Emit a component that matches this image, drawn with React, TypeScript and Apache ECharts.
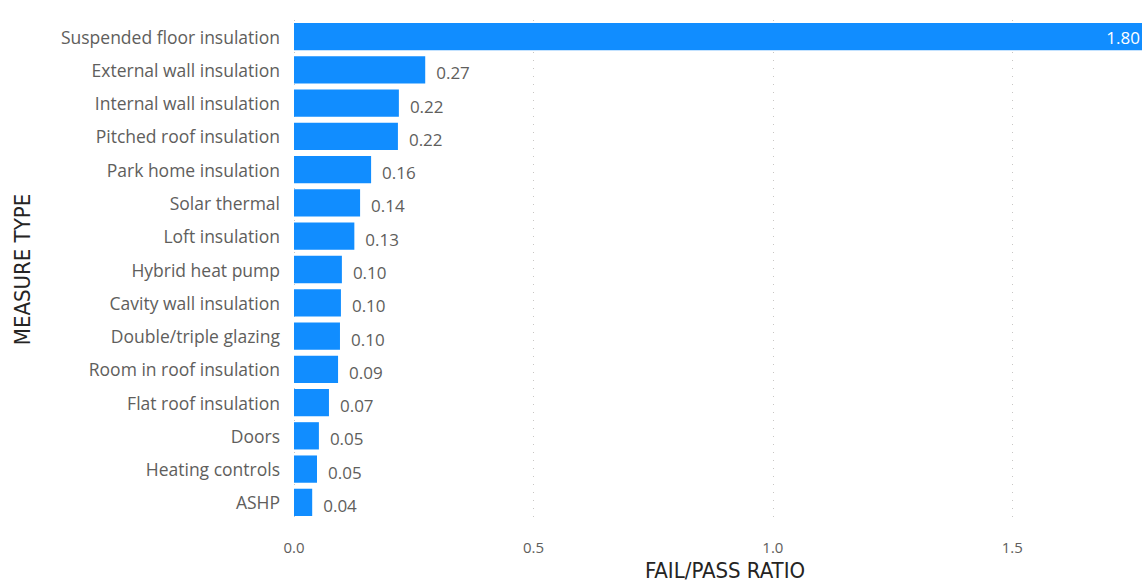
import React, { useEffect, useRef } from "react";
import * as echarts from "echarts";

const categories = [
  "Suspended floor insulation",
  "External wall insulation",
  "Internal wall insulation",
  "Pitched roof insulation",
  "Park home insulation",
  "Solar thermal",
  "Loft insulation",
  "Hybrid heat pump",
  "Cavity wall insulation",
  "Double/triple glazing",
  "Room in roof insulation",
  "Flat roof insulation",
  "Doors",
  "Heating controls",
  "ASHP",
];

const ratios = [1.8, 0.274, 0.219, 0.217, 0.161, 0.138, 0.126, 0.1, 0.098, 0.096, 0.092, 0.073, 0.052, 0.048, 0.038];

const xTicks = [0, 0.5, 1.0, 1.5];

export default function App() {
  const ref = useRef<HTMLDivElement>(null);
  useEffect(() => {
    document.body.style.margin = "0";
    const chart = echarts.init(ref.current!, null, { renderer: "svg" });
    const labelFont = "'Open Sans', 'Noto Sans', sans-serif";
    const titleFont = "'DejaVu Sans Condensed', 'DejaVu Sans', sans-serif";
    chart.setOption({
      animation: false,
      backgroundColor: "#ffffff",
      grid: {
        left: 294,
        top: 20,
        width: 862,
        bottom: 64,
        containLabel: false,
        outerBoundsMode: "none",
      },
      xAxis: {
        type: "value",
        min: 0,
        max: 1.8,
        interval: 0.5,
        name: "FAIL/PASS RATIO",
        nameLocation: "middle",
        nameGap: 38,
        nameTextStyle: { fontFamily: titleFont, fontSize: 22, color: "#252423", lineHeight: 24 },
        axisLine: { show: false },
        axisTick: { show: false },
        axisLabel: {
          color: "#605E5C",
          fontFamily: labelFont,
          fontSize: 15,
          margin: 20,
          formatter: (v: number) => (xTicks.some((t) => Math.abs(t - v) < 1e-9) ? v.toFixed(1) : ""),
        },
        splitLine: { show: true, lineStyle: { color: "#C8C6C4", type: [1, 7], width: 1 } },
      },
      yAxis: {
        type: "category",
        data: categories,
        inverse: true,
        name: "MEASURE TYPE",
        nameLocation: "middle",
        nameRotate: 90,
        nameGap: 261,
        nameTextStyle: { fontFamily: titleFont, fontSize: 22, color: "#252423" },
        axisLine: { show: false },
        axisTick: { show: false },
        axisLabel: { color: "#605E5C", fontFamily: labelFont, fontSize: 17.5, margin: 14 },
        splitLine: { show: false },
      },
      series: [
        {
          type: "bar",
          data: ratios.map((v, i) =>
            i === 0
              ? {
                  value: v,
                  label: { position: "insideRight", distance: 16, color: "#ffffff", offset: [0, 1] },
                }
              : v
          ),
          barCategoryGap: "18%",
          itemStyle: { color: "#118DFF" },
          label: {
            show: true,
            position: "right",
            distance: 11,
            color: "#605E5C",
            fontFamily: labelFont,
            fontSize: 17,
            offset: [0, 3],
            formatter: (p: any) => Number(p.value).toFixed(2),
          },
        },
      ],
    });
    return () => chart.dispose();
  }, []);
  return <div ref={ref} style={{ width: 1142, height: 583 }} />;
}
